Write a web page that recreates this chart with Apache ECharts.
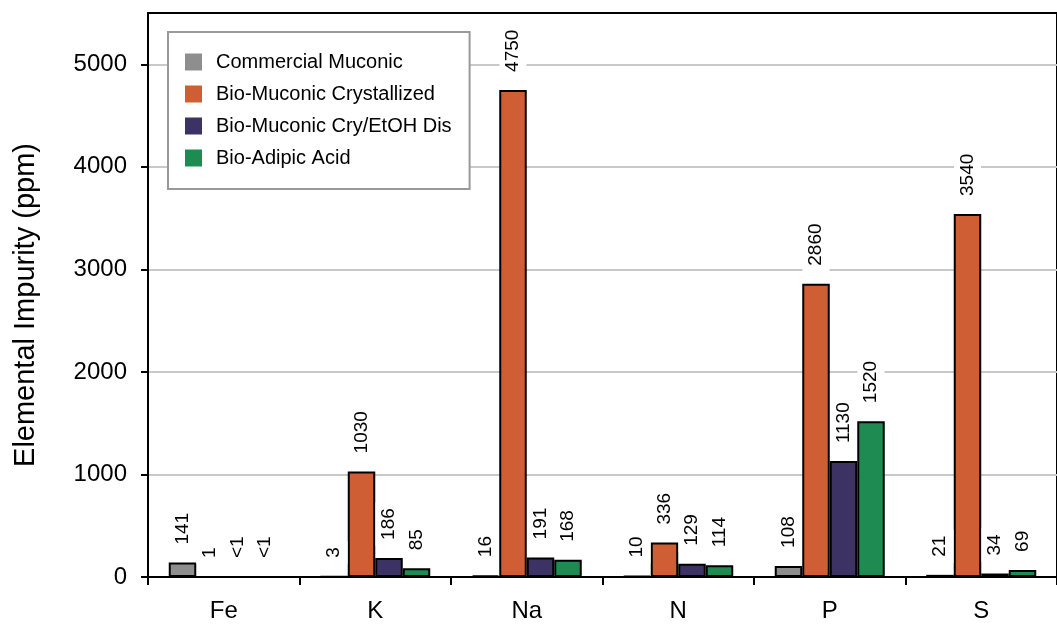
<!DOCTYPE html>
<html>
<head>
<meta charset="utf-8">
<script src="https://cdn.jsdelivr.net/npm/echarts@6/dist/echarts.min.js"></script>
<style>
  html, body { margin: 0; padding: 0; background: #fff; }
  #chart { width: 1057px; height: 624px; }
</style>
</head>
<body>
<div id="chart"></div>
<script>
// Elements measured
const categories = ['Fe', 'K', 'Na', 'N', 'P', 'S'];

// Impurity levels in ppm; values below 1 are shown as "<1"
const commercialMuconic = [141, 3, 16, 10, 108, 21];
const bioMuconicCrystallized = [1, 1030, 4750, 336, 2860, 3540];
const bioMuconicCryEtohDis = [0.5, 186, 191, 129, 1130, 34];
const bioAdipicAcid = [0.5, 85, 168, 114, 1520, 69];

const seriesNames = [
  'Commercial Muconic',
  'Bio-Muconic Crystallized',
  'Bio-Muconic Cry/EtOH Dis',
  'Bio-Adipic Acid'
];
const seriesColors = ['#8e8e8e', '#cf5e34', '#3c3264', '#1e8b52'];

// Y axis: labelled ticks every 1000, gridlines every 500
const yTickValues = [0, 1000, 2000, 3000, 4000, 5000];

const FONT = '"Liberation Sans", Arial, sans-serif';

function makeSeries(name, data, color) {
  return {
    name: name,
    type: 'bar',
    data: data,
    barWidth: 27.5,
    barGap: '0%',
    itemStyle: { color: color, borderColor: '#000', borderWidth: 2 },
    label: {
      show: true,
      position: 'top',
      rotate: 90,
      align: 'left',
      verticalAlign: 'middle',
      distance: 12,
      fontFamily: FONT,
      fontSize: 19,
      lineHeight: 19,
      color: '#000',
      backgroundColor: '#fff',
      padding: [4, 6],
      formatter: function (p) { return p.value < 1 ? '<1' : String(p.value); }
    }
  };
}

const chart = echarts.init(document.getElementById('chart'), null, { renderer: 'canvas' });

chart.setOption({
  animation: false,
  backgroundColor: '#fff',
  textStyle: { fontFamily: FONT },
  grid: {
    left: 148,
    top: 13,
    bottom: 47,
    width: 916,
    show: true,
    backgroundColor: '#fff',
    borderColor: '#000',
    borderWidth: 2,
    containLabel: false
  },
  legend: {
    orient: 'vertical',
    left: 168,
    top: 32,
    padding: [20, 18, 21, 17],
    itemGap: 12,
    itemWidth: 17,
    itemHeight: 17,
    icon: 'rect',
    backgroundColor: '#fff',
    borderColor: '#999',
    borderWidth: 2,
    itemStyle: { borderWidth: 0 },
    textStyle: {
      fontFamily: FONT,
      fontSize: 20,
      lineHeight: 18,
      color: '#000',
      padding: [0, 0, 0, 9]
    },
    data: seriesNames
  },
  xAxis: {
    type: 'category',
    data: categories,
    boundaryGap: true,
    axisLine: { show: true, lineStyle: { color: '#000', width: 2 } },
    axisTick: { show: true, length: 8, lineStyle: { color: '#000', width: 2 } },
    axisLabel: { fontFamily: FONT, fontSize: 24, color: '#000', margin: 22 },
    splitLine: { show: false }
  },
  yAxis: {
    type: 'value',
    min: 0,
    max: 5500,
    interval: 500,
    name: 'Elemental Impurity (ppm)',
    nameLocation: 'middle',
    nameGap: 108,
    nameTextStyle: { fontFamily: FONT, fontSize: 29, color: '#000', padding: [0, 20, 0, 0] },
    axisLine: { show: true, lineStyle: { color: '#000', width: 2 } },
    axisTick: {
      show: true,
      length: 7,
      customValues: yTickValues,
      lineStyle: { color: '#000', width: 2 }
    },
    axisLabel: {
      fontFamily: FONT,
      fontSize: 24,
      color: '#000',
      margin: 21,
      customValues: yTickValues,
      formatter: function (v) { return String(v); }
    },
    splitLine: { show: true, lineStyle: { color: '#c8c8c8', width: 2 } }
  },
  series: [
    makeSeries(seriesNames[0], commercialMuconic, seriesColors[0]),
    makeSeries(seriesNames[1], bioMuconicCrystallized, seriesColors[1]),
    makeSeries(seriesNames[2], bioMuconicCryEtohDis, seriesColors[2]),
    makeSeries(seriesNames[3], bioAdipicAcid, seriesColors[3])
  ]
});
</script>
</body>
</html>
